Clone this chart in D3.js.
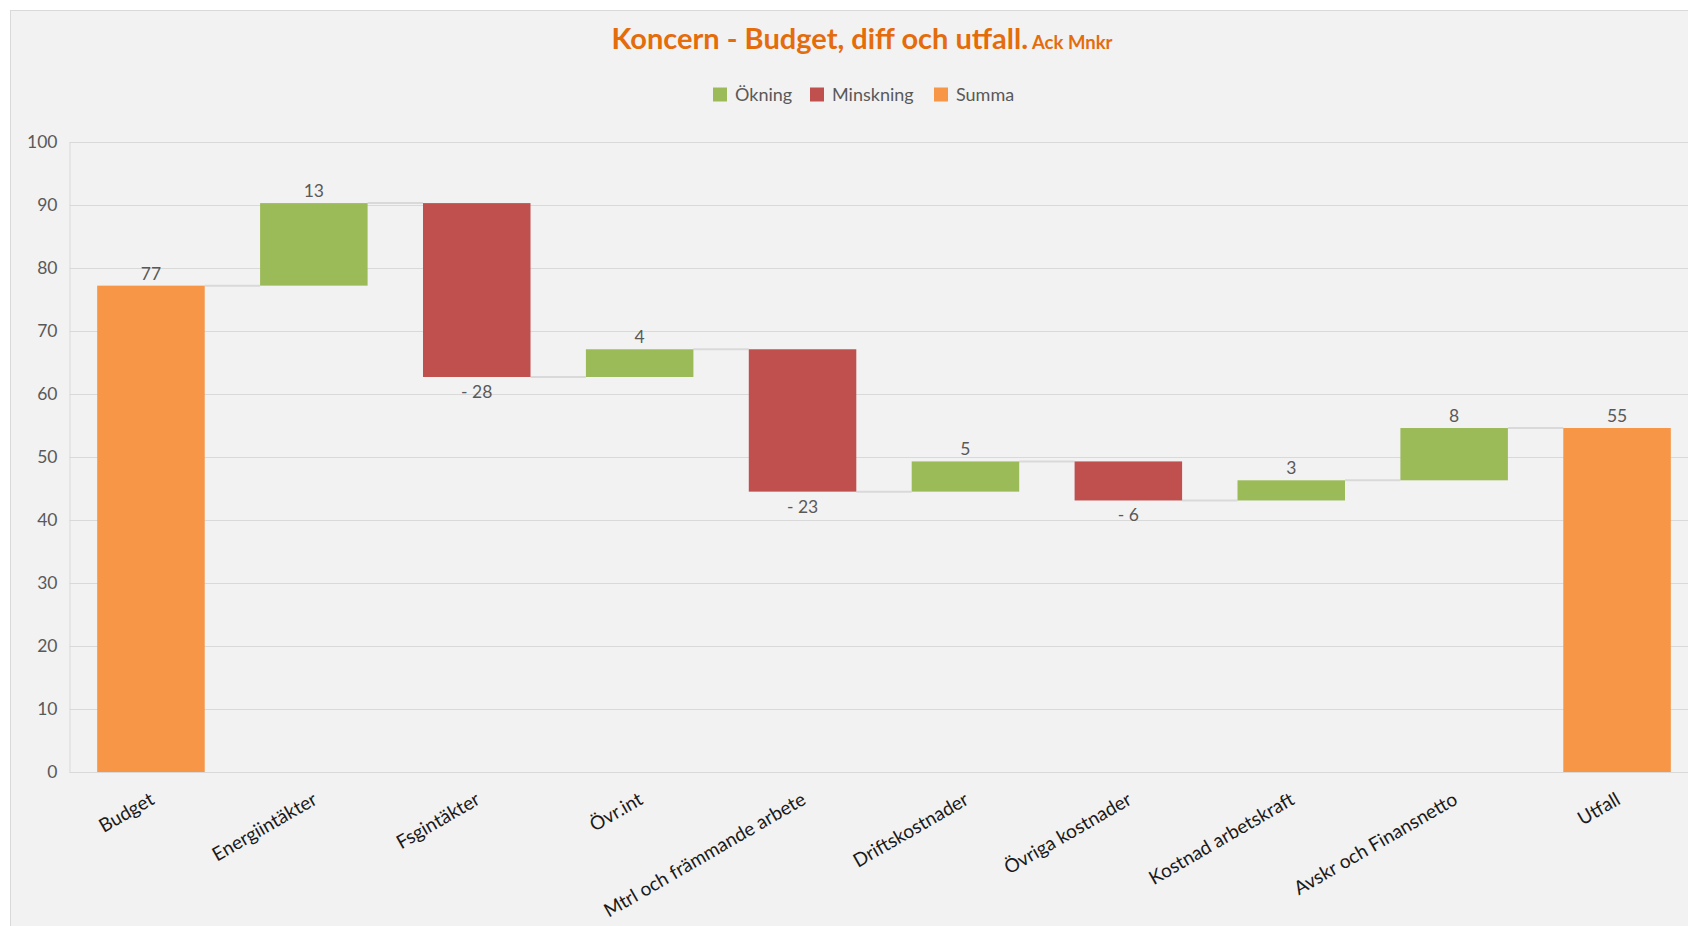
<!DOCTYPE html>
<html>
<head>
<meta charset="utf-8">
<script src="https://cdn.jsdelivr.net/npm/d3@7"></script>
<style>
    body { margin: 0; background: #ffffff; }
    svg { display: block; font-family: Lato, "Open Sans", sans-serif; }
</style>
</head>
<body>
<div id="viz"></div>
<script>
// values
const categories = ["Budget", "Energiintäkter", "Fsgintäkter", "Övr.int", "Mtrl och främmande arbete",
    "Driftskostnader", "Övriga kostnader", "Kostnad arbetskraft", "Avskr och Finansnetto", "Utfall"];
const budgetValue = 77.2;
const changes = [13.1, -27.6, 4.4, -22.6, 4.8, -6.2, 3.2, 8.3];
const utfallValue = 54.6;
const yTicks = [0, 10, 20, 30, 40, 50, 60, 70, 80, 90, 100];
const legendLabels = ["Ökning", "Minskning", "Summa"];

const width = 1688;
const height = 926;
const margin = { top: 142, right: -10.5, bottom: 154, left: 69.5 };
const colors = { "Ökning": "#9bbb59", "Minskning": "#c0504d", "Summa": "#f79646" };

// build waterfall steps
let steps = [];
steps.push({ name: categories[0], type: "Summa", start: 0, end: budgetValue, value: budgetValue });
let running = budgetValue;
for (let i = 0; i < changes.length; i++) {
    const v = changes[i];
    steps.push({
        name: categories[i + 1],
        type: v >= 0 ? "Ökning" : "Minskning",
        start: running,
        end: running + v,
        value: v
    });
    running += v;
}
steps.push({ name: categories[categories.length - 1], type: "Summa", start: 0, end: utfallValue, value: utfallValue });

const xScale = d3.scaleBand()
    .domain(categories)
    .range([margin.left, width - margin.right])
    .paddingInner(0.34)
    .paddingOuter(0.17);

const yScale = d3.scaleLinear()
    .domain([0, 100])
    .range([height - margin.bottom, margin.top]);

const svg = d3.select('#viz')
    .append('svg')
        .attr('viewBox', [0, 0, width, height])
        .attr('width', width)
        .attr('height', height);

// chart area
svg.append('rect')
    .attr('x', 10.5)
    .attr('y', 10.5)
    .attr('width', width)
    .attr('height', height)
    .attr('fill', '#f2f2f2')
    .attr('stroke', '#d9d9d9');

// title
const title = svg.append('text')
    .attr('x', 862)
    .attr('y', 49)
    .attr('text-anchor', 'middle')
    .attr('fill', '#e46c0a')
    .attr('font-weight', 'bold');
title.append('tspan').attr('font-size', 29).text('Koncern - Budget, diff och utfall.');
title.append('tspan').attr('font-size', 18.5).text('  Ack Mnkr');

// legend
const legendX = [713, 810, 934];
const legend = svg.append('g');
legendLabels.forEach((lab, i) => {
    legend.append('rect')
        .attr('x', legendX[i])
        .attr('y', 87.5)
        .attr('width', 14)
        .attr('height', 14)
        .attr('fill', colors[lab]);
    legend.append('text')
        .attr('x', legendX[i] + 22)
        .attr('y', 101)
        .attr('font-size', 18)
        .attr('fill', '#595959')
        .text(lab);
});

// grid
svg.append('g')
    .selectAll('line')
    .data(yTicks.filter(d => d > 0))
    .join('line')
        .attr('x1', margin.left)
        .attr('x2', width)
        .attr('y1', d => Math.round(yScale(d)) + 0.5)
        .attr('y2', d => Math.round(yScale(d)) + 0.5)
        .attr('stroke', '#d9d9d9');

// y axis
const yAxis = svg.append('g')
    .attr('transform', `translate(${margin.left}, 0)`)
    .call(d3.axisLeft(yScale).tickValues(yTicks).tickSize(0).tickPadding(12));
yAxis.select('.domain').attr('stroke', '#d9d9d9');
yAxis.selectAll('text')
    .attr('font-family', 'Lato, sans-serif')
    .attr('font-size', 17.5)
    .attr('fill', '#595959');

// x axis
const xAxis = svg.append('g')
    .attr('transform', `translate(0, ${Math.round(yScale(0)) + 0.5})`)
    .call(d3.axisBottom(xScale).tickSize(0).tickFormat(''));
xAxis.select('.domain').attr('stroke', '#d9d9d9').attr('d', `M${margin.left},0H${width}`);

svg.append('g')
    .selectAll('text')
    .data(categories)
    .join('text')
        .attr('transform', d => `translate(${xScale(d) + xScale.bandwidth() / 2 - 3}, 790) rotate(-30)`)
        .attr('dy', '0.8em')
        .attr('text-anchor', 'end')
        .attr('font-size', 19)
        .attr('fill', '#1a1a1a')
        .text(d => d);

// connectors
const connectors = steps.slice(0, -1).map((s, i) => ({ level: s.end, from: s.name, to: steps[i + 1].name }));
svg.append('g')
    .selectAll('line')
    .data(connectors)
    .join('line')
        .attr('x1', d => xScale(d.from) + xScale.bandwidth())
        .attr('x2', d => xScale(d.to))
        .attr('y1', d => yScale(d.level))
        .attr('y2', d => yScale(d.level))
        .attr('stroke', '#d9d9d9')
        .attr('stroke-width', 2);

// bars
svg.append('g')
    .selectAll('rect')
    .data(steps)
    .join('rect')
        .attr('x', d => xScale(d.name))
        .attr('width', xScale.bandwidth())
        .attr('y', d => yScale(Math.max(d.start, d.end)))
        .attr('height', d => Math.abs(yScale(d.start) - yScale(d.end)))
        .attr('fill', d => colors[d.type]);

// data labels
const fmt = v => v < 0 ? '- ' + Math.abs(v).toFixed(0) : v.toFixed(0);
svg.append('g')
    .selectAll('text')
    .data(steps)
    .join('text')
        .attr('x', d => xScale(d.name) + xScale.bandwidth() / 2)
        .attr('y', d => d.value < 0 ? yScale(d.end) + 21 : yScale(d.end) - 6)
        .attr('text-anchor', 'middle')
        .attr('font-size', 17.5)
        .attr('fill', '#595959')
        .text(d => fmt(d.value));
</script>
</body>
</html>
